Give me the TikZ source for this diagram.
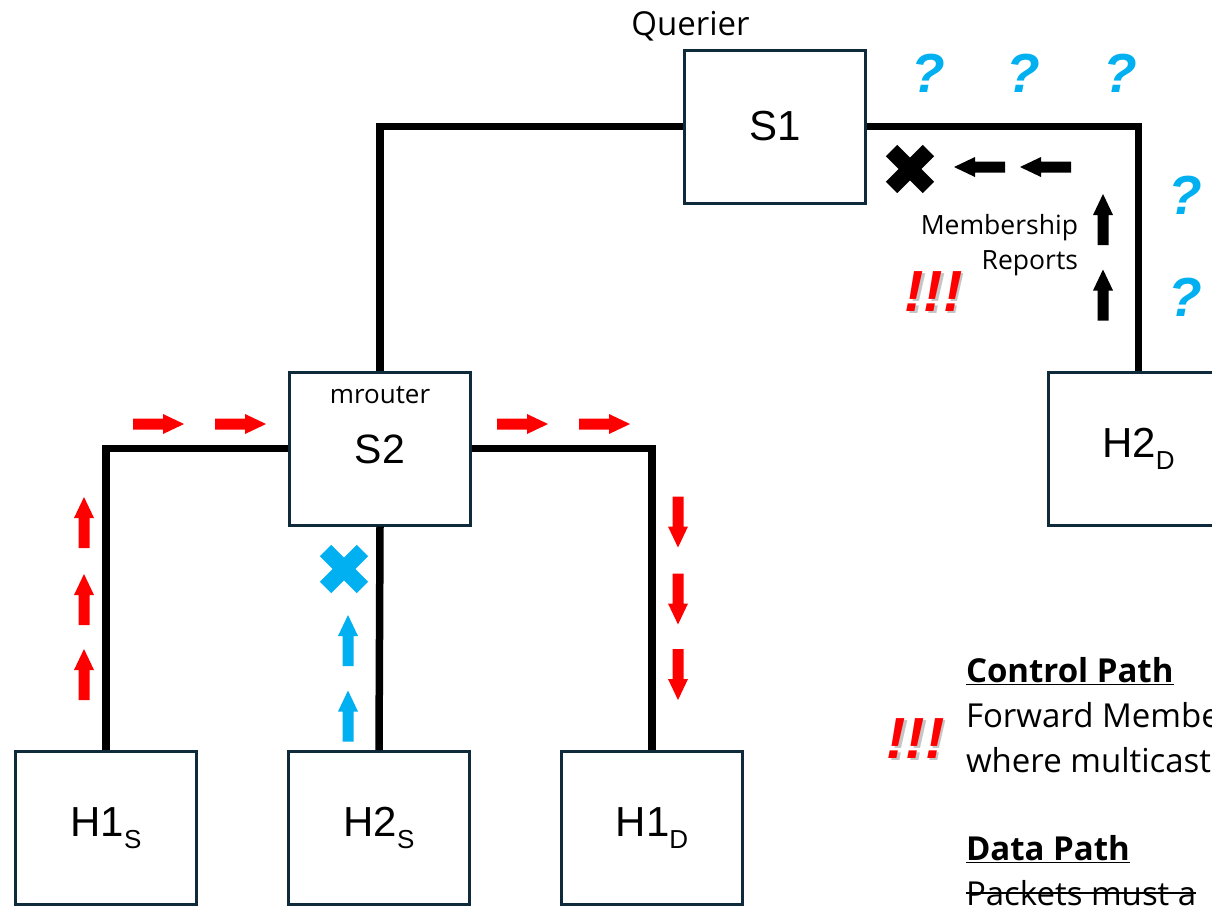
\documentclass[tikz,border=0pt]{standalone}
\usepackage{fontspec}
\setmainfont{Open Sans}
\newfontfamily\arialfont{Liberation Sans}
\definecolor{boxnavy}{HTML}{0E2A3B}
\definecolor{skyblue}{HTML}{00B0F0}
\definecolor{alertred}{HTML}{FF0000}
\newcommand\fsz[1]{\fontsize{#1}{#1}\selectfont}
\newcommand\subtxt[1]{\raisebox{-12pt}{\fsz{26}#1}}
\begin{document}
\begin{tikzpicture}[x=1pt,y=-1pt,
  devbox/.style={draw=boxnavy, line width=3pt, fill=white, minimum width=181pt, minimum height=153pt, inner sep=0pt, font=\arialfont\fsz{42}},
  link/.style={line width=7.5pt, black, line join=miter},
  txt/.style={inner sep=0pt, outer sep=0pt},
  qmark/.style={txt, text=skyblue, font=\arialfont\bfseries\itshape\fsz{55}},
  bang/.style={txt, font=\arialfont\bfseries\itshape\fsz{58}},
  legend/.style={txt, font=\fsz{33}, anchor=base west},
  legendhead/.style={txt, font=\bfseries\fsz{33}, anchor=base west},
  blockarrow/.pic={\fill (-25.5,-5.5) -- (4.5,-5.5) -- (4.5,-10) -- (25.5,0) -- (4.5,10) -- (4.5,5.5) -- (-25.5,5.5) -- cycle;},
  crossmark/.pic={\draw[line width=16pt] (-18.4,-18.4) -- (18.4,18.4) (-18.4,18.4) -- (18.4,-18.4);}
]
\clip (0,0) rectangle (1212,906);
\fill[white] (0,0) rectangle (1212,906);

% devices
\node[devbox] (S1) at (775,126.5) {S1};
\node[devbox] (S2) at (380,448.5) {};
\node[txt, font=\arialfont\fsz{41}] (S2lbl) at (380,449) {S2};
\node[txt, font=\fsz{26}, anchor=base] (mr) at (380,403) {mrouter};
\node[devbox] (H2D) at (1138.5,448.5) {H2\subtxt{D}};
\node[devbox] (H1S) at (106,828) {H1\subtxt{S}};
\node[devbox] (H2S) at (379,828) {H2\subtxt{S}};
\node[devbox] (H1D) at (652,828) {H1\subtxt{D}};
\node[txt, font=\fsz{33}, anchor=base] (qr) at (690.5,35) {Querier};

% links
\draw[link] (S1.west) -| (S2.north);
\draw[link] (S1.east) -| (H2D.north);
\draw[link] (S2.west) -| (H1S.north);
\draw[link] (S2.east) -| (H1D.north);
\draw[link] (S2.south) -- (H2S.north);

% red data arrows
\pic[alertred] at (158.5,424) {blockarrow};
\pic[alertred] at (240.5,424) {blockarrow};
\pic[alertred] at (522.5,424) {blockarrow};
\pic[alertred] at (604.5,424) {blockarrow};
\pic[alertred, rotate=90] at (84,522.5) {blockarrow};
\pic[alertred, rotate=90] at (84,599.5) {blockarrow};
\pic[alertred, rotate=90] at (84,674.5) {blockarrow};
\pic[alertred, rotate=-90] at (678,522) {blockarrow};
\pic[alertred, rotate=-90] at (678,599) {blockarrow};
\pic[alertred, rotate=-90] at (678,674.5) {blockarrow};
% blue arrows
\pic[skyblue, rotate=90] at (348,640.5) {blockarrow};
\pic[skyblue, rotate=90] at (348,716) {blockarrow};
\pic[skyblue] at (344,569) {crossmark};
% black arrows
\pic[black, rotate=180] at (979.5,167) {blockarrow};
\pic[black, rotate=180] at (1045.5,167) {blockarrow};
\pic[black, rotate=90] at (1103,219.5) {blockarrow};
\pic[black, rotate=90] at (1103,295) {blockarrow};
\pic[black] at (910,169) {crossmark};

\node[txt, font=\fsz{26.5}, anchor=base east] (mem1) at (1078,234) {Membership};
\node[txt, font=\fsz{26.5}, anchor=base east] (mem2) at (1078,269) {Reports};

% question marks
\node[qmark] (q1) at (928,73) {?};
\node[qmark] (q2) at (1023,73) {?};
\node[qmark] (q3) at (1120,73) {?};
\node[qmark] (q4) at (1185,195) {?};
\node[qmark] (q5) at (1185,297) {?};

% alerts
\node[bang, text=black!45, opacity=0.5] (b1s) at (936,294) {!!!};
\node[bang, text=alertred] (b1) at (933.5,291.5) {!!!};
\node[bang, text=black!45, opacity=0.5] (b2s) at (918,741) {!!!};
\node[bang, text=alertred] (b2) at (915.5,738.5) {!!!};

% legend text
\node[legendhead] (ctrl) at (966,682) {Control Path};
\draw[line width=1.6pt] ([yshift=-2.5pt]ctrl.base west) -- ([yshift=-2.5pt]ctrl.base east);
\node[legend] (l1) at (966,727) {Forward Membership};
\node[legend] (l2) at (966,772) {where multicast};
\node[legendhead] (data) at (966,860) {Data Path};
\draw[line width=1.6pt] ([yshift=-2.5pt]data.base west) -- ([yshift=-2.5pt]data.base east);
\node[legend] (l3) at (966,905) {Packets must a};
\draw[line width=1.6pt] ([yshift=12pt]l3.base west) -- ([yshift=12pt]l3.base east);
\end{tikzpicture}
\end{document}
